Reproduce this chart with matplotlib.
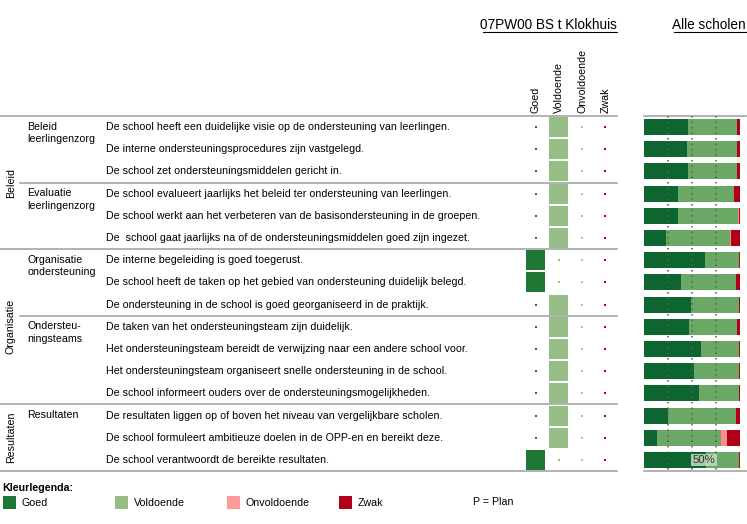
import matplotlib
matplotlib.use("Agg")
import matplotlib.pyplot as plt
from matplotlib.patches import Rectangle
import numpy as np

plt.rcParams['font.family'] = ['Liberation Sans', 'DejaVu Sans']

# ---------------- data ----------------
school_title = "07PW00 BS t Klokhuis"
all_title = "Alle scholen"
categories = ["Goed", "Voldoende", "Onvoldoende", "Zwak"]

groups = ["Beleid", "Organisatie", "Resultaten"]
group_sizes = [6, 7, 3]
subgroups = ["Beleid\nleerlingenzorg", "Evaluatie\nleerlingenzorg", "Organisatie\nondersteuning",
             "Ondersteu-\nningsteams", "Resultaten"]
subgroup_sizes = [3, 3, 3, 4, 3]

questions = [
    "De school heeft een duidelijke visie op de ondersteuning van leerlingen.",
    "De interne ondersteuningsprocedures zijn vastgelegd.",
    "De school zet ondersteuningsmiddelen gericht in.",
    "De school evalueert jaarlijks het beleid ter ondersteuning van leerlingen.",
    "De school werkt aan het verbeteren van de basisondersteuning in de groepen.",
    "De  school gaat jaarlijks na of de ondersteuningsmiddelen goed zijn ingezet.",
    "De interne begeleiding is goed toegerust.",
    "De school heeft de taken op het gebied van ondersteuning duidelijk belegd.",
    "De ondersteuning in de school is goed georganiseerd in de praktijk.",
    "De taken van het ondersteuningsteam zijn duidelijk.",
    "Het ondersteuningsteam bereidt de verwijzing naar een andere school voor.",
    "Het ondersteuningsteam organiseert snelle ondersteuning in de school.",
    "De school informeert ouders over de ondersteuningsmogelijkheden.",
    "De resultaten liggen op of boven het niveau van vergelijkbare scholen.",
    "De school formuleert ambitieuze doelen in de OPP-en en bereikt deze.",
    "De school verantwoordt de bereikte resultaten.",
]

# school rating per question: index into categories
school_rating = [1, 1, 1, 1, 1, 1, 0, 0, 1, 1, 1, 1, 1, 1, 1, 0]

# distribution over all schools (percent)
pct_goed = [45.8, 44.8, 45.8, 35.4, 35.4, 22.9, 63.5, 38.5, 49.0, 46.9, 59.4, 52.1, 57.3, 25.0, 13.5, 64.6]
pct_vold = [51.1, 52.1, 51.1, 58.3, 62.6, 66.7, 35.5, 57.3, 50.0, 50.0, 39.6, 46.9, 41.7, 70.8, 66.7, 34.4]
pct_onv = [0.0, 0.0, 0.0, 0.0, 1.0, 1.0, 0.0, 0.0, 0.0, 0.0, 0.0, 0.0, 0.0, 0.0, 6.3, 0.0]
pct_zwak = [3.1, 3.1, 3.1, 6.3, 1.0, 9.4, 1.0, 4.2, 1.0, 3.1, 1.0, 1.0, 1.0, 4.2, 13.5, 1.0]
ref_lines = [25, 50, 75]

# ---------------- styling ----------------
cell_colors = ["#1F7736", "#97BD86", "#FF9A9A", "#B0001A"]
bar_colors = ["#0D6630", "#6BA865", "#FF8C8C", "#B0001A"]
line_col = "#A6A6A6"
FS = 7.65
W, H = 747, 524
fig = plt.figure(figsize=(W / 100, H / 100), dpi=100)

# overlay axes in pixel coordinates for text and rules
ov = fig.add_axes([0, 0, 1, 1])
ov.set_xlim(0, W)
ov.set_ylim(H, 0)
ov.axis("off")

top_y, bot_y = 116, 471
n = len(questions)
row_h = (bot_y - top_y) / n

def fx(px):
    return px / W

def fy(py):
    return 1 - py / H

# titles
ov.text(617, 25, school_title, ha="right", va="center", fontsize=9.8)
ov.plot([483, 617], [32, 32], color="black", lw=0.8)
ov.text(746, 25, all_title, ha="right", va="center", fontsize=9.8)
ov.plot([674, 746], [32, 32], color="black", lw=0.8)

# horizontal rules
ov.plot([0, 617], [top_y, top_y], color=line_col, lw=1.2)
ov.plot([644, 746], [top_y, top_y], color=line_col, lw=1.2)
ov.plot([0, 617], [bot_y, bot_y], color=line_col, lw=1.2)
ov.plot([644, 746], [bot_y, bot_y], color=line_col, lw=1.2)

# group labels and separators
start = 0
for g, s in zip(groups, group_sizes):
    y0 = top_y + start * row_h
    y1 = top_y + (start + s) * row_h
    ov.text(11, (y0 + y1) / 2, g, rotation=90, ha="center", va="center", fontsize=FS)
    if start > 0:
        ov.plot([0, 617], [y0, y0], color=line_col, lw=1.2)
    start += s

start = 0
group_starts = np.cumsum([0] + group_sizes)
for sg, s in zip(subgroups, subgroup_sizes):
    y0 = top_y + start * row_h
    ov.text(27, y0 + 5.5, sg, ha="left", va="top", fontsize=FS, linespacing=1.35)
    if start > 0 and start not in group_starts:
        ov.plot([20, 617], [y0, y0], color=line_col, lw=1.2)
    start += s

for i, q in enumerate(questions):
    ov.text(106, top_y + (i + 0.5) * row_h, q, ha="left", va="center", fontsize=FS)

# matrix axes
mx0, mx1 = 524, 617
axm = fig.add_axes([fx(mx0), fy(bot_y), (mx1 - mx0) / W, (bot_y - top_y) / H])
axm.set_xlim(0, 4)
axm.set_ylim(n, 0)
axm.patch.set_alpha(0)
axm.axis("off")
for i, r in enumerate(school_rating):
    for c in range(4):
        if c == r:
            axm.add_patch(Rectangle((c + 0.09, i + 0.05), 0.82, 0.9, color=cell_colors[c], lw=0))
        else:
            axm.add_patch(Rectangle((c + 0.455, i + 0.455), 0.09, 0.09, color=cell_colors[c], lw=0))
for c, name in enumerate(categories):
    axm.text(c + 0.5, -0.15, name, rotation=90, ha="center", va="bottom", fontsize=FS)

# stacked bars
bx0, bx1 = 644, 740
axb = fig.add_axes([fx(bx0), fy(bot_y), (bx1 - bx0) / W, (bot_y - top_y) / H])
axb.set_xlim(0, 100)
axb.set_ylim(n, 0)
axb.patch.set_alpha(0)
axb.axis("off")
y = np.arange(n) + 0.5
left = np.zeros(n)
for vals, col in zip([pct_goed, pct_vold, pct_onv, pct_zwak], bar_colors):
    vals = np.array(vals)
    axb.barh(y, vals, left=left, height=0.72, color=col, lw=0)
    left += vals
for xv in ref_lines:
    axb.plot([xv, xv], [0, n], color="#5A5A5A", lw=1.1, ls=(0, (1, 2.6)))
axb.text(50.5, n - 0.5, "50%", ha="left", va="center", fontsize=8.2, color="#333333",
         bbox=dict(boxstyle="square,pad=0.12", fc="#C6DEC2", ec="none", alpha=0.85))

# legend
ov.text(2, 488, "Kleurlegenda:", ha="left", va="center", fontsize=FS, fontweight="bold")
leg_x = [3, 115, 227, 339]
for lx, name, col in zip(leg_x, categories, cell_colors):
    ov.add_patch(Rectangle((lx, 496), 13, 13, color=col, lw=0))
    ov.text(lx + 19, 503, name, ha="left", va="center", fontsize=FS)
ov.text(473, 502, "P = Plan", ha="left", va="center", fontsize=FS)

fig.savefig("out.png", dpi=100)
